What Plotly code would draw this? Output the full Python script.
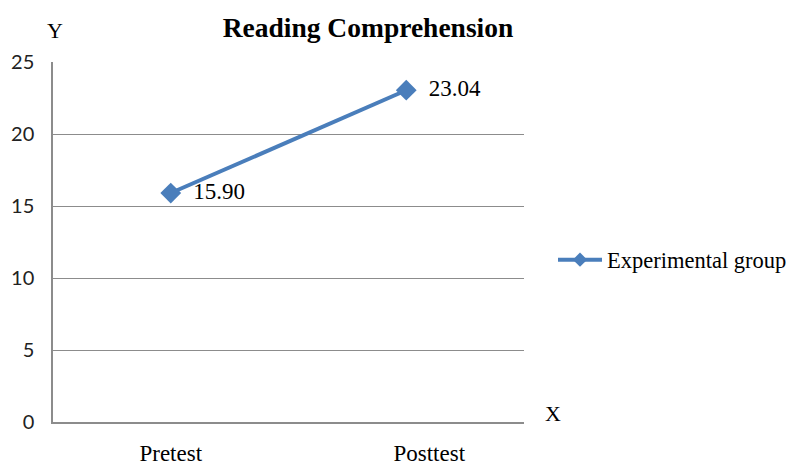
import plotly.graph_objects as go

categories = ["Pretest", "Posttest"]
values = [15.90, 23.04]
value_labels = ["15.90", "23.04"]
series_name = "Experimental group"
y_ticks = [0, 5, 10, 15, 20, 25]

SERIF = "Liberation Serif, Times New Roman, serif"
SANS = "Lato, Carlito, Calibri, sans-serif"
BLUE = "#4A7EBB"

W, H = 787, 467
L, R, T, B = 53, 263, 62, 45
pw, ph = W - L - R, H - T - B


def px_to_paper(x, y):
    return (x - L) / pw, (H - B - y) / ph


fig = go.Figure()
fig.add_trace(go.Scatter(
    x=categories, y=values, name=series_name,
    mode="lines+markers+text", showlegend=False,
    line=dict(color=BLUE, width=4),
    marker=dict(symbol="diamond", size=16, color=BLUE),
    text=["\u00a0\u00a0" + t for t in value_labels], textposition="middle right",
    textfont=dict(family=SERIF, size=23, color="#000000"),
    cliponaxis=False, hoverinfo="skip",
))
# legend entry (smaller marker as in the reference legend)
fig.add_trace(go.Scatter(
    x=[None], y=[None], name=series_name, mode="lines+markers",
    line=dict(color=BLUE, width=4),
    marker=dict(symbol="diamond", size=11, color=BLUE),
))

yx, yy = px_to_paper(55, 30)
xx, xy = px_to_paper(553, 413)
lx, ly = px_to_paper(553, 260)

# the reference prints the second category label a little right of its tick
tick_text = [categories[0], "\u00a0" * 8 + categories[1]]

fig.update_layout(
    width=W, height=H,
    margin=dict(l=L, r=R, t=T, b=B, autoexpand=False),
    paper_bgcolor="white", plot_bgcolor="white",
    font=dict(family=SERIF, size=22, color="#000000"),
    title=dict(text="<b>Reading Comprehension</b>", x=368 / W, xanchor="center",
               y=1 - 27 / H, yanchor="middle",
               font=dict(family=SERIF, size=27.5, color="#000000")),
    showlegend=True,
    legend=dict(x=lx, y=ly, xanchor="left", yanchor="middle",
                font=dict(family=SERIF, size=22.5, color="#000000"),
                bgcolor="rgba(0,0,0,0)", itemwidth=44),
    xaxis=dict(type="category", range=[-0.5, 1.5], showgrid=False, automargin=False,
               tickvals=categories, ticktext=tick_text,
               showline=True, linecolor="#8c8c8c", linewidth=1.5, ticks="",
               ticklabelstandoff=10, tickfont=dict(family=SERIF, size=23)),
    yaxis=dict(range=[0, 25], tickvals=y_ticks, showgrid=True, gridcolor="#8c8c8c",
               gridwidth=1, showline=True, linecolor="#8c8c8c", linewidth=1.5,
               automargin=False, ticks="", ticklabelstandoff=13, zeroline=False,
               tickfont=dict(family=SANS, size=20, color="#222222")),
    annotations=[
        dict(text="Y", x=yx, y=yy, xref="paper", yref="paper", showarrow=False,
             xanchor="center", yanchor="middle", font=dict(family=SERIF, size=22)),
        dict(text="X", x=xx, y=xy, xref="paper", yref="paper", showarrow=False,
             xanchor="center", yanchor="middle", font=dict(family=SERIF, size=22)),
    ],
)

fig.write_html("out.html", config={"displayModeBar": False},
               post_script="document.body.style.margin='0';")
